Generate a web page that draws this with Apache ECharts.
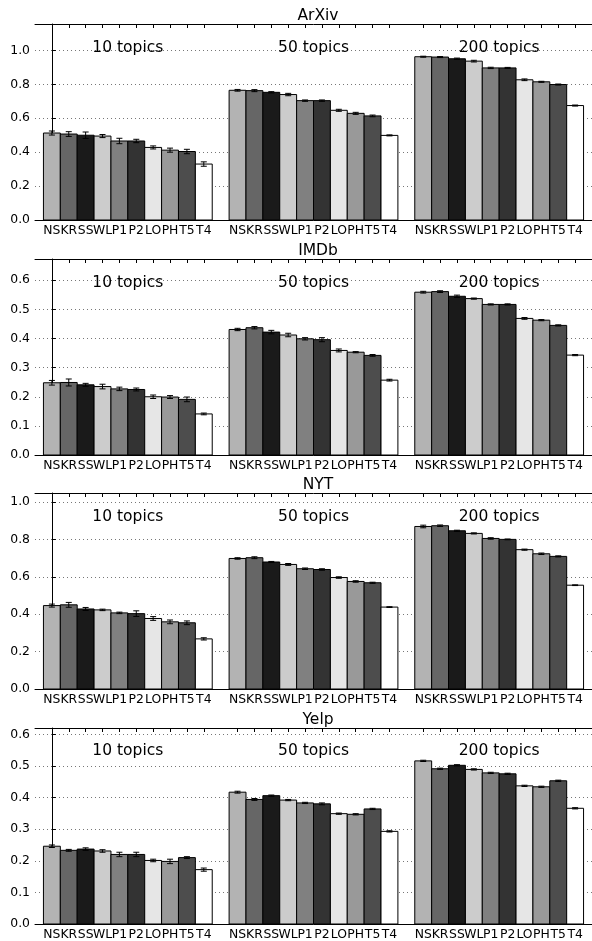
<!DOCTYPE html>
<html>
<head>
<meta charset="utf-8">
<script src="https://cdn.jsdelivr.net/npm/echarts@6/dist/echarts.min.js"></script>
<style>
  html, body { margin: 0; padding: 0; background: #fff; }
  #main { width: 592px; height: 941px; }
</style>
</head>
<body>
<div id="main"></div>
<script>
// datasets (one panel each) and methods (one bar each)
var panels = ["ArXiv", "IMDb", "NYT", "Yelp"];
var methods = ["NS", "KR", "SS", "WL", "P1", "P2", "LO", "PH", "T5", "T4"];
var topicGroups = ["10 topics", "50 topics", "200 topics"];
var barColors = ["#b3b3b3", "#666666", "#1a1a1a", "#cccccc", "#808080",
                 "#333333", "#e6e6e6", "#999999", "#4d4d4d", "#ffffff"];

// mean scores
var arxiv10 = [0.513, 0.507, 0.500, 0.495, 0.466, 0.466, 0.428, 0.412, 0.404, 0.330];
var arxiv50 = [0.765, 0.763, 0.753, 0.740, 0.704, 0.704, 0.647, 0.629, 0.614, 0.499];
var arxiv200 = [0.963, 0.961, 0.951, 0.937, 0.897, 0.897, 0.827, 0.815, 0.799, 0.675];
var imdb10 = [0.248, 0.249, 0.241, 0.235, 0.227, 0.225, 0.200, 0.199, 0.191, 0.141];
var imdb50 = [0.431, 0.437, 0.422, 0.412, 0.399, 0.396, 0.359, 0.353, 0.342, 0.257];
var imdb200 = [0.559, 0.561, 0.545, 0.537, 0.517, 0.517, 0.469, 0.463, 0.445, 0.343];
var nyt10 = [0.446, 0.450, 0.428, 0.423, 0.407, 0.403, 0.377, 0.359, 0.354, 0.268];
var nyt50 = [0.698, 0.702, 0.679, 0.666, 0.643, 0.639, 0.596, 0.575, 0.568, 0.438];
var nyt200 = [0.869, 0.873, 0.846, 0.832, 0.805, 0.800, 0.745, 0.723, 0.709, 0.555];
var yelp10 = [0.246, 0.233, 0.237, 0.231, 0.220, 0.220, 0.201, 0.198, 0.210, 0.172];
var yelp50 = [0.417, 0.394, 0.406, 0.392, 0.383, 0.380, 0.349, 0.347, 0.364, 0.293];
var yelp200 = [0.516, 0.491, 0.502, 0.489, 0.478, 0.475, 0.437, 0.434, 0.453, 0.366];

// error bar half lengths
var arxivErr10 = [0.012, 0.014, 0.019, 0.009, 0.016, 0.010, 0.009, 0.012, 0.013, 0.013];
var arxivErr50 = [0.005, 0.006, 0.004, 0.007, 0.004, 0.004, 0.006, 0.006, 0.005, 0.003];
var arxivErr200 = [0.003, 0.003, 0.004, 0.005, 0.004, 0.003, 0.005, 0.003, 0.003, 0.003];
var imdbErr10 = [0.008, 0.012, 0.005, 0.008, 0.006, 0.005, 0.006, 0.005, 0.008, 0.003];
var imdbErr50 = [0.004, 0.004, 0.006, 0.006, 0.004, 0.007, 0.005, 0.002, 0.003, 0.003];
var imdbErr200 = [0.003, 0.003, 0.004, 0.002, 0.002, 0.002, 0.003, 0.002, 0.002, 0.002];
var nytErr10 = [0.008, 0.013, 0.008, 0.004, 0.004, 0.015, 0.010, 0.010, 0.010, 0.006];
var nytErr50 = [0.004, 0.005, 0.003, 0.005, 0.004, 0.004, 0.004, 0.004, 0.003, 0.002];
var nytErr200 = [0.007, 0.004, 0.003, 0.003, 0.004, 0.002, 0.003, 0.004, 0.003, 0.002];
var yelpErr10 = [0.004, 0.003, 0.004, 0.004, 0.007, 0.007, 0.004, 0.007, 0.003, 0.005];
var yelpErr50 = [0.003, 0.003, 0.002, 0.002, 0.002, 0.003, 0.002, 0.002, 0.002, 0.002];
var yelpErr200 = [0.002, 0.002, 0.002, 0.002, 0.002, 0.002, 0.002, 0.002, 0.002, 0.002];

var panelMeans = [
  [arxiv10, arxiv50, arxiv200],
  [imdb10, imdb50, imdb200],
  [nyt10, nyt50, nyt200],
  [yelp10, yelp50, yelp200]
];
var panelErrs = [
  [arxivErr10, arxivErr50, arxivErr200],
  [imdbErr10, imdbErr50, imdbErr200],
  [nytErr10, nytErr50, nytErr200],
  [yelpErr10, yelpErr50, yelpErr200]
];

// y axis extents and tick steps per panel
var yMax = [1.156, 0.673, 1.048, 0.62];
var yStep = [0.2, 0.1, 0.2, 0.1];
var labelLevel = [1.015, 0.59, 0.918, 0.546];

var gridTops = [24, 259, 493, 728];
var gridHeight = 196;
var font = "DejaVu Sans";

// bar positions: group g, method k -> g*11 + k (a blank slot between groups)
var barPositions = [];
for (var g = 0; g < 3; g++) {
  for (var k = 0; k < 10; k++) barPositions.push(g * 11 + k);
}

var grids = [], xAxes = [], yAxes = [], titles = [], series = [];

panels.forEach(function(name, p) {
  grids.push({ left: 35, right: -4, top: gridTops[p], height: gridHeight });
  titles.push({
    text: name,
    left: 313,
    top: gridTops[p] - 21,
    textAlign: "center",
    textStyle: { fontFamily: font, fontSize: 15.5, fontWeight: "normal", color: "#000" }
  });

  xAxes.push({
    type: "value", gridIndex: p, min: -1, max: 32, interval: 1,
    axisLine: { show: true, lineStyle: { color: "#000", width: 1 } },
    axisTick: { show: true, inside: true, length: 4, customValues: barPositions, lineStyle: { color: "#000" } },
    axisLabel: {
      show: true, customValues: barPositions, margin: 5,
      fontFamily: font, fontSize: 12.4, color: "#000",
      formatter: function(v) { return methods[Math.round(v) % 11] || ""; }
    },
    splitLine: { show: false }
  });
  xAxes.push({
    type: "value", gridIndex: p, position: "top", min: -1, max: 32, interval: 1,
    axisLine: { show: true, lineStyle: { color: "#000", width: 1 } },
    axisTick: { show: true, inside: true, length: 4, customValues: barPositions, lineStyle: { color: "#000" } },
    axisLabel: { show: false },
    splitLine: { show: false }
  });
  yAxes.push({
    type: "value", gridIndex: p, min: 0, max: yMax[p], interval: yStep[p],
    axisLine: { show: true, lineStyle: { color: "#000", width: 1 } },
    axisTick: { show: true, inside: true, length: 4, lineStyle: { color: "#000" } },
    axisLabel: {
      showMaxLabel: false, margin: 5,
      fontFamily: font, fontSize: 12.4, color: "#000",
      formatter: function(v) { return v.toFixed(1); }
    },
    splitLine: { show: true, lineStyle: { color: "#777", type: [1, 3], width: 1 } }
  });

  var barData = [], errData = [];
  panelMeans[p].forEach(function(vals, g) {
    vals.forEach(function(v, k) {
      barData.push([g * 11 + k, v, k]);
      errData.push([g * 11 + k, v, panelErrs[p][g][k]]);
    });
  });

  series.push({
    type: "custom",
    xAxisIndex: p * 2, yAxisIndex: p,
    data: barData,
    renderItem: function(params, api) {
      var top = api.coord([api.value(0), api.value(1)]);
      var size = api.size([1, api.value(1)]);
      return {
        type: "rect",
        shape: { x: top[0] - size[0] / 2, y: top[1], width: size[0], height: size[1] },
        style: { fill: barColors[api.value(2)], stroke: "#000", lineWidth: 1 }
      };
    }
  });

  series.push({
    type: "custom",
    xAxisIndex: p * 2, yAxisIndex: p,
    data: errData,
    z: 5,
    renderItem: function(params, api) {
      var x = api.value(0), v = api.value(1), e = api.value(2);
      var lo = api.coord([x, v - e]);
      var hi = api.coord([x, v + e]);
      var st = { stroke: "#000", lineWidth: 1 };
      return {
        type: "group",
        children: [
          { type: "line", shape: { x1: lo[0], y1: lo[1], x2: hi[0], y2: hi[1] }, style: st },
          { type: "line", shape: { x1: lo[0] - 3, y1: lo[1], x2: lo[0] + 3, y2: lo[1] }, style: st },
          { type: "line", shape: { x1: hi[0] - 3, y1: hi[1], x2: hi[0] + 3, y2: hi[1] }, style: st }
        ]
      };
    }
  });

  // "N topics" captions centred over each group
  series.push({
    type: "custom",
    xAxisIndex: p * 2, yAxisIndex: p,
    data: topicGroups.map(function(t, g) { return [g * 11 + 4.5, labelLevel[p], g]; }),
    renderItem: function(params, api) {
      var pt = api.coord([api.value(0), api.value(1)]);
      return {
        type: "text",
        x: pt[0], y: pt[1],
        style: {
          text: topicGroups[api.value(2)],
          fill: "#000",
          font: "15.5px '" + font + "'",
          textAlign: "center",
          textVerticalAlign: "middle"
        }
      };
    }
  });
});

var myChart = echarts.init(document.getElementById("main"), null, { renderer: "canvas" });
myChart.setOption({
  backgroundColor: "#fff",
  animation: false,
  title: titles,
  grid: grids,
  xAxis: xAxes,
  yAxis: yAxes,
  series: series
});
</script>
</body>
</html>
